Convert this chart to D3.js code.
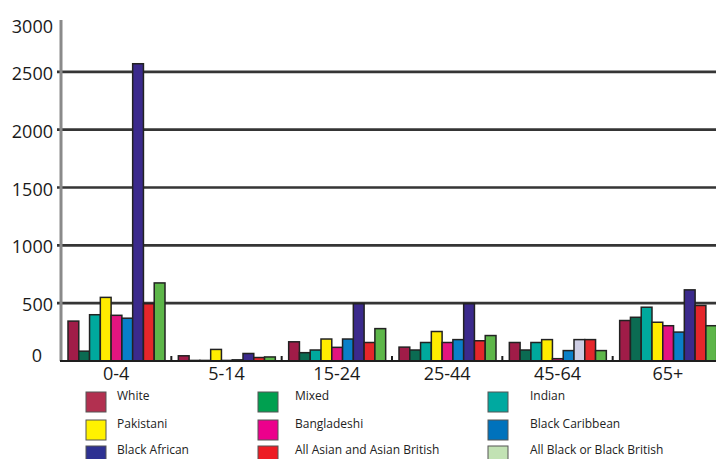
<!DOCTYPE html>
<html>
<head>
<meta charset="utf-8">
<script src="https://cdn.jsdelivr.net/npm/d3@7"></script>
<style>
  html, body { margin: 0; padding: 0; background: #fff; }
  svg { display: block; font-family: "Open Sans", "DejaVu Sans", sans-serif; }
</style>
</head>
<body>
<svg id="chart" width="716" height="459"></svg>
<script>
// Age groups along the x axis
const ageGroups = ["0-4", "5-14", "15-24", "25-44", "45-64", "65+"];

// Ethnic groups (one bar per group within each age band)
const ethnicGroups = [
  "White", "Mixed", "Indian", "Pakistani", "Bangladeshi",
  "Black Caribbean", "Black African", "All Asian and Asian British",
  "All Black or Black British"
];

// Values per ethnic group, in age-group order
const white         = [345, 45, 166, 120, 160, 350];
const mixed         = [85, 5, 72, 95, 95, 378];
const indian        = [400, 5, 95, 160, 160, 465];
const pakistani     = [550, 100, 190, 255, 185, 335];
const bangladeshi   = [395, 5, 118, 160, 20, 305];
const blackCaribbean= [370, 10, 190, 185, 90, 250];
const blackAfrican  = [2570, 65, 495, 495, 185, 615];
const allAsian      = [495, 30, 160, 175, 185, 480];
const allBlack      = [675, 35, 280, 220, 90, 305];

const seriesValues = [white, mixed, indian, pakistani, bangladeshi,
  blackCaribbean, blackAfrican, allAsian, allBlack];

// Y axis tick labels
const yTicks = [0, 500, 1000, 1500, 2000, 2500, 3000];

// Bar fills and legend swatch fills
const barColors = ["#a01c48", "#0b6b52", "#00a99d", "#ffec00", "#e3157f",
  "#0a7fc8", "#3b2a8c", "#e5262b", "#5db649"];
const swatchColors = ["#b23050", "#00a050", "#00a9a0", "#fff200", "#ec008c",
  "#0072bc", "#2e3192", "#ed1c24", "#c2e2b4"];
// One bar is shown in a pale tint
const fillOverride = { "45-64|Black African": "#cdcde4" };

const svg = d3.select("#chart");
const W = 716;

const y = d3.scaleLinear().domain([0, 3000]).range([361, 14]);
const x0 = d3.scaleBand().domain(ageGroups).range([61, 723]);
const x1 = d3.scaleBand().domain(ethnicGroups).range([7, 104]);

// Horizontal gridlines (behind the bars)
svg.append("g")
  .selectAll("line")
  .data(yTicks.filter(v => v > 0 && v < 3000))
  .join("line")
  .attr("x1", 57).attr("x2", W)
  .attr("y1", d => y(d)).attr("y2", d => y(d))
  .attr("stroke", "#353535")
  .attr("stroke-width", 2.6);

// Bars
const rows = ageGroups.map((g, gi) => ({
  group: g,
  values: ethnicGroups.map((s, si) => ({ group: g, series: s, si, value: seriesValues[si][gi] }))
}));

svg.append("g")
  .selectAll("g")
  .data(rows)
  .join("g")
  .attr("transform", d => `translate(${x0(d.group)},0)`)
  .selectAll("rect")
  .data(d => d.values)
  .join("rect")
  .attr("x", d => x1(d.series))
  .attr("width", x1.bandwidth())
  .attr("y", d => y(d.value))
  .attr("height", d => y(0) - y(d.value))
  .attr("fill", d => fillOverride[d.group + "|" + d.series] || barColors[d.si])
  .attr("stroke", "#222")
  .attr("stroke-width", 1.5);

// Y axis line
svg.append("line")
  .attr("x1", 61).attr("x2", 61)
  .attr("y1", 20).attr("y2", y(0))
  .attr("stroke", "#8a8a8a")
  .attr("stroke-width", 3);

// X baseline
svg.append("line")
  .attr("x1", 60).attr("x2", W)
  .attr("y1", y(0)).attr("y2", y(0))
  .attr("stroke", "#1e1e1e")
  .attr("stroke-width", 2);

// Small separators between age bands
svg.append("g")
  .selectAll("line")
  .data(ageGroups.slice(1))
  .join("line")
  .attr("x1", d => x0(d)).attr("x2", d => x0(d))
  .attr("y1", y(0)).attr("y2", y(0) - 5)
  .attr("stroke", "#1e1e1e")
  .attr("stroke-width", 2);

// Y axis labels
const yAxis = svg.append("g")
  .attr("transform", "translate(53,0)")
  .call(d3.axisLeft(y).tickValues(yTicks).tickSize(0).tickPadding(0).tickFormat(d3.format("d")));
yAxis.select(".domain").remove();
yAxis.selectAll("text")
  .attr("font-family", "'Open Sans', sans-serif")
  .attr("font-size", 18)
  .attr("fill", "#1a1a1a")
  .attr("dy", d => d === 3000 ? "1.05em" : d === 0 ? "0.0em" : "0.42em")
  .attr("x", d => d === 0 ? -11 : 0);

// X axis labels
const xAxis = svg.append("g")
  .attr("transform", `translate(0,${y(0)})`)
  .call(d3.axisBottom(x0).tickSize(0).tickPadding(6));
xAxis.select(".domain").remove();
xAxis.selectAll("text")
  .attr("font-family", "'Open Sans', sans-serif")
  .attr("font-size", 18)
  .attr("fill", "#1a1a1a");

// Legend: 3 columns x 3 rows
const colSwatchX = [86, 258, 488];
const colTextX = [117, 295, 530];
const rowY = [392, 420, 446];

const legend = svg.append("g")
  .selectAll("g")
  .data(ethnicGroups.map((s, i) => ({ s, i, col: i % 3, row: Math.floor(i / 3) })))
  .join("g");

legend.append("rect")
  .attr("x", d => colSwatchX[d.col])
  .attr("y", d => rowY[d.row])
  .attr("width", 20).attr("height", 20)
  .attr("fill", d => swatchColors[d.i])
  .attr("stroke", "#555")
  .attr("stroke-width", 1);

legend.append("text")
  .attr("x", d => colTextX[d.col])
  .attr("y", d => rowY[d.row] + 8)
  .attr("font-size", 12)
  .attr("fill", "#222")
  .text(d => d.s);
</script>
</body>
</html>
